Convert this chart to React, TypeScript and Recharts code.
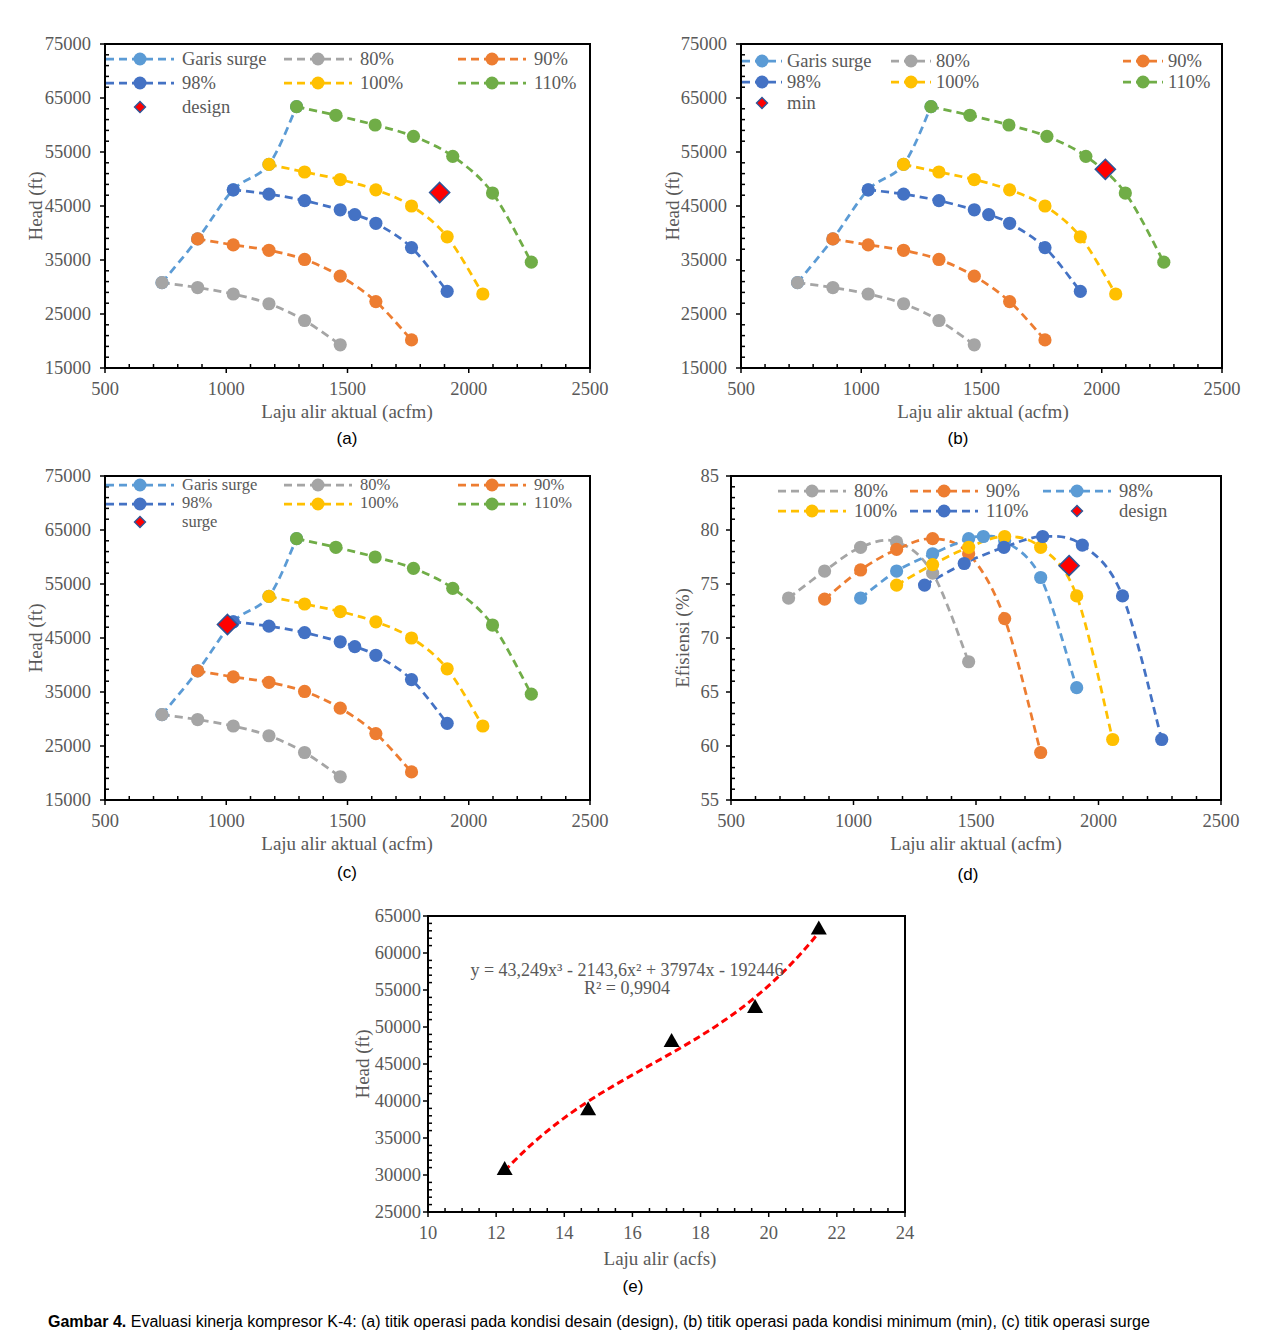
import React from 'react'
import {
  ComposedChart,
  Line,
  ReferenceArea,
  Scatter,
  XAxis,
  YAxis,
} from 'recharts'

// ---- compressor map data (flow in acfm, head in ft, efficiency in %) ----
const surgeFlow = [735, 882, 1029, 1176, 1290]
const surgeHead = [30800, 38900, 48000, 52700, 63400]

const flow80 = [735, 882, 1029, 1176, 1323, 1470]
const head80 = [30800, 29900, 28700, 26900, 23800, 19300]
const eff80 = [73.7, 76.2, 78.4, 78.9, 76.0, 67.8]

const flow90 = [882, 1029, 1176, 1323, 1470, 1617, 1764]
const head90 = [38900, 37800, 36800, 35100, 32000, 27300, 20200]
const eff90 = [73.6, 76.3, 78.2, 79.2, 77.8, 71.8, 59.4]

const flow98 = [1029, 1176, 1323, 1470, 1530, 1617, 1764, 1911]
const head98 = [48000, 47200, 46000, 44300, 43400, 41800, 37300, 29200]
const eff98 = [73.7, 76.2, 77.8, 79.2, 79.4, 79.0, 75.6, 65.4]

const flow100 = [1176, 1323, 1470, 1617, 1764, 1911, 2058]
const head100 = [52700, 51300, 49900, 48000, 45000, 39300, 28700]
const eff100 = [74.9, 76.8, 78.4, 79.4, 78.4, 73.9, 60.6]

const flow110 = [1290, 1452, 1614, 1772, 1934, 2098, 2258]
const head110 = [63400, 61800, 60000, 57900, 54200, 47400, 34600]
const eff110 = [74.9, 76.9, 78.4, 79.4, 78.6, 73.9, 60.6]

// operating points
const designPoint = [{ x: 1880, y: 47500 }]
const minPoint = [{ x: 2015, y: 51800 }]
const surgePoint = [{ x: 1005, y: 47500 }]
const designEff = [{ x: 1880, y: 76.7 }]

// surge line vs flow in acfs, with the fitted cubic
const surgeFlowS = [12.25, 14.7, 17.15, 19.6, 21.47]
const surgeHeadS = [30800, 38900, 48100, 52700, 63300]
const fitCoef = [43.249, -2143.6, 37974, -192446]
const fitRange = [12.25, 21.47]

// axis ticks
const flowMajor = [500, 1000, 1500, 2000, 2500]
const headMajor = [15000, 25000, 35000, 45000, 55000, 65000, 75000]
const effMajor = [55, 60, 65, 70, 75, 80, 85]
const acfsMajor = [10, 12, 14, 16, 18, 20, 22, 24]
const headMajorE = [25000, 30000, 35000, 40000, 45000, 50000, 55000, 60000, 65000]

const SURGE = '#5B9BD5'
const C80 = '#A5A5A5'
const C90 = '#ED7D31'
const C98 = '#4472C4'
const C100 = '#FFC000'
const C110 = '#70AD47'
const TXT = '#595959'
const SERIF = '"Liberation Serif", "Times New Roman", serif'
const SANS = '"Liberation Sans", Arial, sans-serif'

const pts = (xs: number[], ys: number[]) => xs.map((x, i) => ({ x, y: ys[i] }))
const steps = (a: number, b: number, s: number) => {
  const out: number[] = []
  for (let v = a; v <= b + 1e-9; v += s) out.push(Math.round(v * 1000) / 1000)
  return out
}

const fitLine = Array.from({ length: 41 }, (_, i) => {
  const x = fitRange[0] + ((fitRange[1] - fitRange[0]) * i) / 40
  return {
    x,
    y: ((fitCoef[0] * x + fitCoef[1]) * x + fitCoef[2]) * x + fitCoef[3],
  }
})

// Catmull-Rom style smoothing, close to the spreadsheet "smoothed line"
const smooth = (context: any) => {
  let p: number[][] = []
  return {
    areaStart() {},
    areaEnd() {},
    lineStart() {
      p = []
    },
    point(x: number, y: number) {
      p.push([+x, +y])
    },
    lineEnd() {
      const n = p.length
      if (!n) return
      context.moveTo(p[0][0], p[0][1])
      for (let i = 0; i < n - 1; i++) {
        const p0 = p[Math.max(i - 1, 0)]
        const p1 = p[i]
        const p2 = p[i + 1]
        const p3 = p[Math.min(i + 2, n - 1)]
        context.bezierCurveTo(
          p1[0] + (p2[0] - p0[0]) / 6,
          p1[1] + (p2[1] - p0[1]) / 6,
          p2[0] - (p3[0] - p1[0]) / 6,
          p2[1] - (p3[1] - p1[1]) / 6,
          p2[0],
          p2[1],
        )
      }
    },
  }
}

type Box = { left: number; top: number; right: number; bottom: number }

const isMajor = (major: number[], v: number) =>
  major.some((m) => Math.abs(m - v) < 1e-6)

const TICK_FONT = 18.5

const xTick = (major: number[]) => (props: any) => {
  const { x, y, payload } = props
  const big = isMajor(major, payload.value)
  return (
    <g>
      <line
        x1={x}
        x2={x}
        y1={y}
        y2={big ? y + 5 : y - 4}
        stroke="#000"
        strokeWidth={1.5}
      />
      {big && (
        <text
          x={x}
          y={y + 21}
          textAnchor="middle"
          dominantBaseline="central"
          fill={TXT}
          fontSize={TICK_FONT}
          fontFamily={SERIF}
        >
          {payload.value}
        </text>
      )}
    </g>
  )
}

const yTick = (major: number[], gap: number) => (props: any) => {
  const { x, y, payload } = props
  const big = isMajor(major, payload.value)
  return (
    <g>
      <line
        x1={x}
        x2={big ? x - 5 : x + 4}
        y1={y}
        y2={y}
        stroke="#000"
        strokeWidth={1.5}
      />
      {big && (
        <text
          x={x - gap}
          y={y}
          textAnchor="end"
          dominantBaseline="central"
          fill={TXT}
          fontSize={TICK_FONT}
          fontFamily={SERIF}
        >
          {payload.value}
        </text>
      )}
    </g>
  )
}

const AXIS_W = 80
const AXIS_H = 40
const PAD_T = 12
const PAD_R = 24

function Panel(props: {
  box: Box
  xDomain: number[]
  xTicks: number[]
  xMajor: number[]
  yDomain: number[]
  yTicks: number[]
  yMajor: number[]
  yGap?: number
  children: React.ReactNode
}) {
  const { box, xDomain, xTicks, xMajor, yDomain, yTicks, yMajor } = props
  const width = box.right - box.left + AXIS_W + PAD_R
  const height = box.bottom - box.top + AXIS_H + PAD_T
  return (
    <div
      style={{
        position: 'absolute',
        left: box.left - AXIS_W,
        top: box.top - PAD_T,
      }}
    >
      <ComposedChart
        width={width}
        height={height}
        margin={{ top: PAD_T, right: PAD_R, bottom: 0, left: 0 }}
      >
        <XAxis
          type="number"
          dataKey="x"
          domain={xDomain}
          ticks={xTicks}
          interval={0}
          allowDataOverflow
          height={AXIS_H}
          tickSize={0}
          tickMargin={0}
          tickLine={false}
          axisLine={{ stroke: '#000', strokeWidth: 2 }}
          tick={xTick(xMajor)}
        />
        <YAxis
          type="number"
          dataKey="y"
          domain={yDomain}
          ticks={yTicks}
          interval={0}
          allowDataOverflow
          width={AXIS_W}
          tickSize={0}
          tickMargin={0}
          tickLine={false}
          axisLine={{ stroke: '#000', strokeWidth: 2 }}
          tick={yTick(yMajor, props.yGap ?? 14)}
        />
        <ReferenceArea
          x1={xDomain[0]}
          x2={xDomain[1]}
          y1={yDomain[0]}
          y2={yDomain[1]}
          fill="none"
          stroke="#000"
          strokeWidth={2}
        />
        {props.children}
      </ComposedChart>
    </div>
  )
}

const dotOf = (color: string, r = 6.6) => (p: any) => (
  <circle key={`d${p.index}`} cx={p.cx} cy={p.cy} r={r} fill={color} />
)

const diamond = (r: number) => (p: any) => (
  <path
    d={`M${p.cx},${p.cy - r}L${p.cx + r},${p.cy}L${p.cx},${p.cy + r}L${p.cx - r},${p.cy}Z`}
    fill="#FF0000"
    stroke="#2F5597"
    strokeWidth={1.6}
  />
)

const triangle = (p: any) => (
  <path
    d={`M${p.cx},${p.cy - 8}L${p.cx + 8},${p.cy + 6}L${p.cx - 8},${p.cy + 6}Z`}
    fill="#000"
  />
)

function seriesLine(key: string, data: any[], color: string) {
  return (
    <Line
      key={key}
      data={data}
      dataKey="y"
      type={smooth as any}
      stroke={color}
      strokeWidth={2.75}
      strokeDasharray="8 5"
      dot={dotOf(color)}
      activeDot={false}
      isAnimationActive={false}
    />
  )
}

type LegendItem = { label: string; color: string; diamond?: boolean }

function LegendGrid(props: {
  items: LegendItem[]
  rows: number[]
  cols: number[]
  symW?: number
  gap?: number
  size?: number
}) {
  const { items, rows, cols } = props
  const w = props.symW ?? 70
  const size = props.size ?? 18.5
  const m = w / 2
  return (
    <>
      {items.map((it, i) => {
        const r = Math.floor(i / 3)
        const c = i % 3
        return (
          <div
            key={it.label}
            style={{
              position: 'absolute',
              left: cols[c],
              top: rows[r] - size / 2,
              height: size,
              lineHeight: `${size}px`,
              display: 'flex',
              alignItems: 'center',
              whiteSpace: 'nowrap',
              fontFamily: SERIF,
              fontSize: size,
              color: TXT,
            }}
          >
            <svg
              width={w}
              height={16}
              style={{ marginRight: props.gap ?? 7, overflow: 'visible' }}
            >
              {it.diamond ? (
                <path
                  d={`M${m},2.5L${m + 5.5},8L${m},13.5L${m - 5.5},8Z`}
                  fill="#FF0000"
                  stroke="#2F5597"
                  strokeWidth={1.4}
                />
              ) : (
                <>
                  <line
                    x1={1}
                    x2={w - 1}
                    y1={8}
                    y2={8}
                    stroke={it.color}
                    strokeWidth={2.75}
                    strokeDasharray="8 5"
                  />
                  <circle cx={m} cy={8} r={6.5} fill={it.color} />
                </>
              )}
            </svg>
            {it.label}
          </div>
        )
      })}
    </>
  )
}

function Text(props: {
  x: number
  y: number
  children: React.ReactNode
  rotate?: boolean
  font?: string
  size?: number
  color?: string
}) {
  return (
    <div
      style={{
        position: 'absolute',
        left: props.x,
        top: props.y,
        transform: `translate(-50%, -50%)${props.rotate ? ' rotate(-90deg)' : ''}`,
        whiteSpace: 'nowrap',
        fontFamily: props.font ?? SERIF,
        fontSize: props.size ?? 19,
        color: props.color ?? TXT,
        lineHeight: 1,
      }}
    >
      {props.children}
    </div>
  )
}

const headLegend = (marker: string): LegendItem[] => [
  { label: 'Garis surge', color: SURGE },
  { label: '80%', color: C80 },
  { label: '90%', color: C90 },
  { label: '98%', color: C98 },
  { label: '100%', color: C100 },
  { label: '110%', color: C110 },
  { label: marker, color: '#FF0000', diamond: true },
]

function HeadPanel(props: { box: Box; marker: { x: number; y: number }[] }) {
  return (
    <Panel
      box={props.box}
      xDomain={[500, 2500]}
      xTicks={steps(500, 2500, 100)}
      xMajor={flowMajor}
      yDomain={[15000, 75000]}
      yTicks={steps(15000, 75000, 2000)}
      yMajor={headMajor}
    >
      {seriesLine('surge', pts(surgeFlow, surgeHead), SURGE)}
      {seriesLine('s80', pts(flow80, head80), C80)}
      {seriesLine('s90', pts(flow90, head90), C90)}
      {seriesLine('s98', pts(flow98, head98), C98)}
      {seriesLine('s100', pts(flow100, head100), C100)}
      {seriesLine('s110', pts(flow110, head110), C110)}
      <Scatter
        data={props.marker}
        dataKey="y"
        shape={diamond(10)}
        isAnimationActive={false}
      />
    </Panel>
  )
}

const boxA = { left: 105, top: 44, right: 590, bottom: 368 }
const boxB = { left: 741, top: 44, right: 1222, bottom: 368 }
const boxC = { left: 105, top: 476, right: 590, bottom: 800 }
const boxD = { left: 731, top: 476, right: 1221, bottom: 800 }
const boxE = { left: 428, top: 916, right: 905, bottom: 1212 }

export default function App() {
  return (
    <div
      style={{
        position: 'absolute',
        left: 0,
        top: 0,
        width: 1262,
        height: 1335,
        overflow: 'hidden',
        background: '#fff',
      }}
    >
      {/* (a) design point */}
      <HeadPanel box={boxA} marker={designPoint} />
      <LegendGrid
        items={headLegend('design')}
        rows={[59, 83, 107]}
        cols={[105, 283, 457]}
      />
      <Text x={35} y={206} rotate>
        Head (ft)
      </Text>
      <Text x={347} y={411}>Laju alir aktual (acfm)</Text>
      <Text x={347} y={438} font={SANS} size={17} color="#000">
        (a)
      </Text>

      {/* (b) minimum point */}
      <HeadPanel box={boxB} marker={minPoint} />
      <LegendGrid
        items={headLegend('min')}
        rows={[61, 82, 103]}
        cols={[741, 890, 1122]}
        symW={42}
        gap={4}
      />
      <Text x={672} y={206} rotate>
        Head (ft)
      </Text>
      <Text x={983} y={411}>Laju alir aktual (acfm)</Text>
      <Text x={958} y={438} font={SANS} size={17} color="#000">
        (b)
      </Text>

      {/* (c) surge point */}
      <HeadPanel box={boxC} marker={surgePoint} />
      <LegendGrid
        items={headLegend('surge')}
        rows={[485, 503.5, 522]}
        cols={[105, 283, 457]}
        size={16.5}
      />
      <Text x={35} y={638} rotate>
        Head (ft)
      </Text>
      <Text x={347} y={843}>Laju alir aktual (acfm)</Text>
      <Text x={347} y={872} font={SANS} size={17} color="#000">
        (c)
      </Text>

      {/* (d) efficiency */}
      <Panel
        box={boxD}
        xDomain={[500, 2500]}
        xTicks={steps(500, 2500, 100)}
        xMajor={flowMajor}
        yDomain={[55, 85]}
        yTicks={steps(55, 85, 1)}
        yMajor={effMajor}
        yGap={12}
      >
        {seriesLine('e80', pts(flow80, eff80), C80)}
        {seriesLine('e90', pts(flow90, eff90), C90)}
        {seriesLine('e98', pts(flow98, eff98), SURGE)}
        {seriesLine('e100', pts(flow100, eff100), C100)}
        {seriesLine('e110', pts(flow110, eff110), C98)}
        <Scatter
          data={designEff}
          dataKey="y"
          shape={diamond(10)}
          isAnimationActive={false}
        />
      </Panel>
      <LegendGrid
        items={[
          { label: '80%', color: C80 },
          { label: '90%', color: C90 },
          { label: '98%', color: SURGE },
          { label: '100%', color: C100 },
          { label: '110%', color: C98 },
          { label: 'design', color: '#FF0000', diamond: true },
        ]}
        rows={[491, 511]}
        cols={[777, 909, 1042]}
      />
      <Text x={682} y={638} rotate>
        Efisiensi (%)
      </Text>
      <Text x={976} y={843}>Laju alir aktual (acfm)</Text>
      <Text x={968} y={874} font={SANS} size={17} color="#000">
        (d)
      </Text>

      {/* (e) surge line fit */}
      <Panel
        box={boxE}
        xDomain={[10, 24]}
        xTicks={steps(10, 24, 0.5)}
        xMajor={acfsMajor}
        yDomain={[25000, 65000]}
        yTicks={steps(25000, 65000, 1000)}
        yMajor={headMajorE}
        yGap={7}
      >
        <Scatter
          data={pts(surgeFlowS, surgeHeadS)}
          dataKey="y"
          shape={triangle}
          isAnimationActive={false}
        />
        <Line
          data={fitLine}
          dataKey="y"
          type="linear"
          stroke="#FF0000"
          strokeWidth={3}
          strokeDasharray="7 4"
          dot={false}
          activeDot={false}
          isAnimationActive={false}
        />
      </Panel>
      <Text x={627} y={970} size={18}>
        y = 43,249x³ - 2143,6x² + 37974x - 192446
      </Text>
      <Text x={627} y={988} size={18}>
        R² = 0,9904
      </Text>
      <Text x={362} y={1064} rotate>
        Head (ft)
      </Text>
      <Text x={660} y={1258}>Laju alir (acfs)</Text>
      <Text x={633} y={1286} font={SANS} size={17} color="#000">
        (e)
      </Text>

      <div
        style={{
          position: 'absolute',
          left: 48,
          top: 1313,
          lineHeight: '18px',
          whiteSpace: 'nowrap',
          fontFamily: SANS,
          fontSize: 16,
          color: '#000',
        }}
      >
        <b>Gambar 4.</b> Evaluasi kinerja kompresor K-4: (a) titik operasi pada
        kondisi desain (design), (b) titik operasi pada kondisi minimum (min),
        (c) titik operasi surge
      </div>
    </div>
  )
}
